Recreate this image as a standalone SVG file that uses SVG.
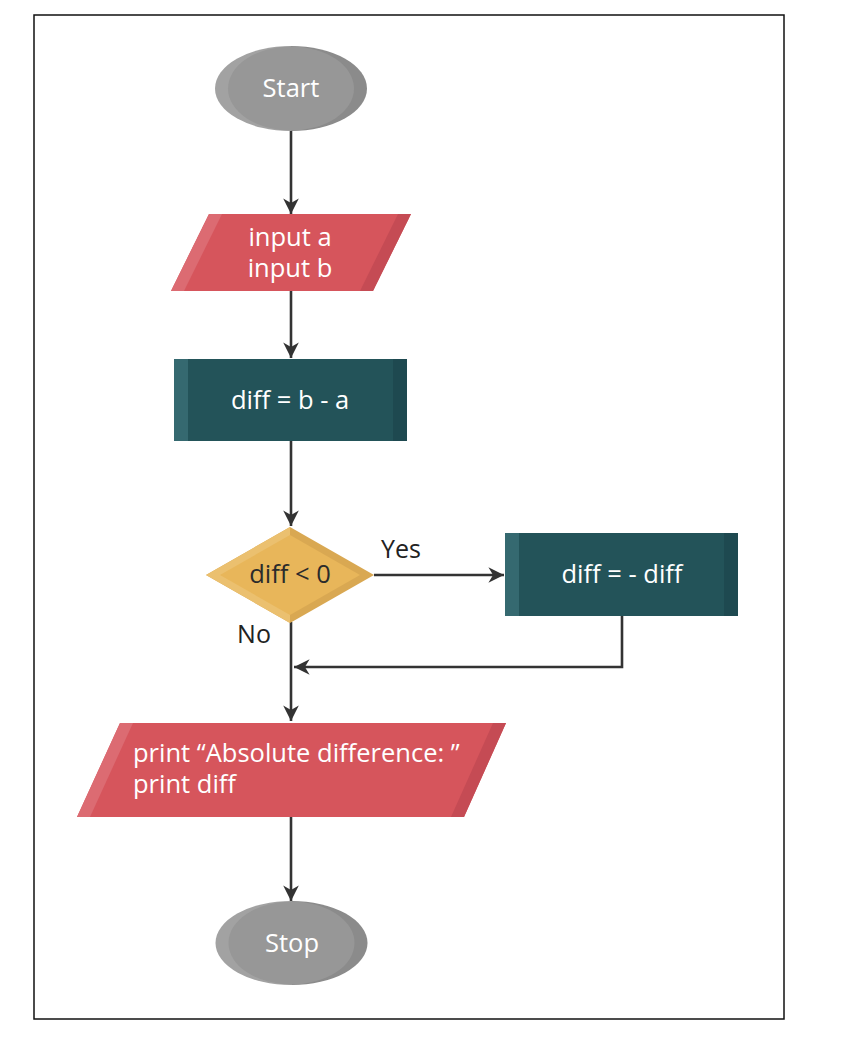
<svg xmlns="http://www.w3.org/2000/svg" width="856" height="1050" viewBox="0 0 856 1050">
<defs>
<style>
.t{font-family:"Open Sans","Liberation Sans",sans-serif;font-size:25.5px;font-weight:500;fill:#ffffff}
.d{fill:#2b2b2b}
.c{fill:none;stroke:#333333;stroke-width:2.6}
.lbl{font-family:"Open Sans","Liberation Sans",sans-serif;font-size:25px;fill:#222222}
</style>
<marker id="ah" viewBox="0 0 10 10" refX="10" refY="5" markerWidth="6" markerHeight="6" markerUnits="strokeWidth" orient="auto">
<path d="M0,0 L10,5 L0,10 L3,5 Z" fill="#333333"/>
</marker>
<clipPath id="cStart"><ellipse cx="291" cy="88.5" rx="76" ry="42.5"/></clipPath>
<clipPath id="cStop"><ellipse cx="291.5" cy="943" rx="76" ry="42"/></clipPath>
</defs>
<rect x="34" y="15" width="750" height="1004" fill="#ffffff" stroke="#111111" stroke-width="1.5"/>

<g id="connectors">
<line class="c" x1="291" y1="131" x2="291" y2="214" marker-end="url(#ah)"/>
<line class="c" x1="291" y1="291" x2="291" y2="358" marker-end="url(#ah)"/>
<line class="c" x1="291" y1="441" x2="291" y2="526" marker-end="url(#ah)"/>
<line class="c" x1="374" y1="575" x2="504" y2="575" marker-end="url(#ah)"/>
<polyline class="c" points="622,616 622,667 294,667" marker-end="url(#ah)"/>
<line class="c" x1="291" y1="622" x2="291" y2="721" marker-end="url(#ah)"/>
<line class="c" x1="291" y1="817" x2="291" y2="901" marker-end="url(#ah)"/>
<text class="lbl" x="401" y="558" text-anchor="middle">Yes</text>
<text class="lbl" x="254" y="643" text-anchor="middle">No</text>
</g>

<g id="start">
<g clip-path="url(#cStart)">
<rect x="210" y="40" width="81" height="100" fill="#a2a2a2"/>
<rect x="291" y="40" width="81" height="100" fill="#8b8b8b"/>
</g>
<ellipse cx="291" cy="88.5" rx="63" ry="42" fill="#979797"/>
<text class="t" x="291" y="97" text-anchor="middle">Start</text>
</g>

<g id="input">
<polygon points="209,214 411,214 373,291 171,291" fill="#d6555c"/>
<polygon points="209,214 222,214 184,291 171,291" fill="#dc6b72"/>
<polygon points="398,214 411,214 373,291 360,291" fill="#c54b54"/>
<text class="t" x="290" y="246" text-anchor="middle">input a</text>
<text class="t" x="290" y="277" text-anchor="middle">input b</text>
</g>

<g id="compute">
<rect x="174" y="359" width="233" height="82" fill="#235359"/>
<rect x="174" y="359" width="14" height="82" fill="#356970"/>
<rect x="393" y="359" width="14" height="82" fill="#1e4950"/>
<text class="t" x="290" y="409" text-anchor="middle">diff = b - a</text>
</g>

<g id="decision">
<polygon points="290,527 374,575 290,623 206,575" fill="#d9a852"/>
<polygon points="290,527 290,623 206,575" fill="#ebc06f"/>
<polygon points="290,535 360,575 290,615 220,575" fill="#e8b65a"/>
<text class="t d" x="290" y="583" text-anchor="middle">diff &lt; 0</text>
</g>

<g id="negate">
<rect x="505" y="533" width="233" height="83" fill="#235359"/>
<rect x="505" y="533" width="14" height="83" fill="#356970"/>
<rect x="724" y="533" width="14" height="83" fill="#1e4950"/>
<text class="t" x="622" y="583" text-anchor="middle">diff = - diff</text>
</g>

<g id="output">
<polygon points="120,723 506,723 464,817 77,817" fill="#d6555c"/>
<polygon points="120,723 133,723 90,817 77,817" fill="#dc6b72"/>
<polygon points="493,723 506,723 464,817 451,817" fill="#c54b54"/>
<text class="t" x="133" y="762">print “Absolute difference: ”</text>
<text class="t" x="133" y="793">print diff</text>
</g>

<g id="stop">
<g clip-path="url(#cStop)">
<rect x="210" y="895" width="82" height="100" fill="#a2a2a2"/>
<rect x="292" y="895" width="82" height="100" fill="#8b8b8b"/>
</g>
<ellipse cx="291.5" cy="943" rx="63" ry="41.5" fill="#979797"/>
<text class="t" x="292" y="952" text-anchor="middle">Stop</text>
</g>
</svg>
